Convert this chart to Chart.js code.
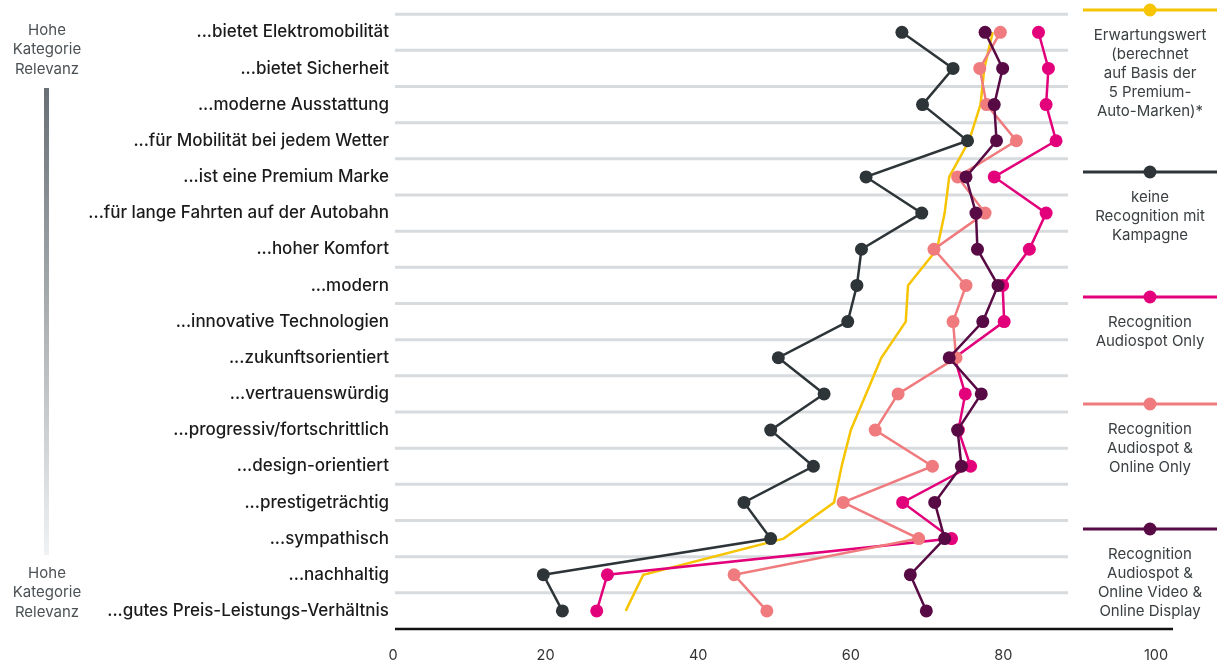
<!DOCTYPE html>
<html><head><meta charset="utf-8">
<script src="https://cdn.jsdelivr.net/npm/chart.js@4"></script>
<style>html,body{margin:0;padding:0;background:#fff;} canvas{display:block}</style>
</head><body>
<canvas id="c" width="1217" height="666"></canvas>
<script>
const categories = [
  '...bietet Elektromobilität',
  '...bietet Sicherheit',
  '...moderne Ausstattung',
  '...für Mobilität bei jedem Wetter',
  '...ist eine Premium Marke',
  '...für lange Fahrten auf der Autobahn',
  '...hoher Komfort',
  '...modern',
  '...innovative Technologien',
  '...zukunftsorientiert',
  '...vertrauenswürdig',
  '...progressiv/fortschrittlich',
  '...design-orientiert',
  '...prestigeträchtig',
  '...sympathisch',
  '...nachhaltig',
  '...gutes Preis-Leistungs-Verhältnis'
];
const erwartungswert        = [78.6, 77.5, 77.0, 75.5, 72.9, 72.3, 71.3, 67.5, 67.2, 64.0, 62.0, 60.0, 58.8, 57.8, 51.2, 32.8, 30.5];
const keineRecognition      = [66.7, 73.4, 69.4, 75.3, 62.0, 69.3, 61.4, 60.8, 59.6, 50.5, 56.5, 49.5, 55.1, 46.0, 49.5, 19.7, 22.2];
const audiospotOnly         = [84.6, 85.9, 85.6, 86.9, 78.8, 85.6, 83.4, 79.9, 80.1, 73.6, 75.0, 74.1, 75.7, 66.8, 73.2, 28.1, 26.7];
const audiospotOnline       = [79.6, 76.9, 77.8, 81.7, 74.0, 77.6, 70.9, 75.1, 73.4, 73.8, 66.2, 63.2, 70.7, 59.0, 68.9, 44.7, 49.0];
const audiospotVideoDisplay = [77.6, 79.9, 78.8, 79.1, 75.1, 76.4, 76.6, 79.3, 77.3, 72.9, 77.1, 74.0, 74.5, 71.0, 72.3, 67.8, 69.9];
const xTickValues = [0, 20, 40, 60, 80, 100];
const legendTexts = [
  ['Erwartungswert', '(berechnet', 'auf Basis der', '5 Premium-', 'Auto-Marken)*'],
  ['keine', 'Recognition mit', 'Kampagne'],
  ['Recognition', 'Audiospot Only'],
  ['Recognition', 'Audiospot &', 'Online Only'],
  ['Recognition', 'Audiospot &', 'Online Video &', 'Online Display']
];
const sideLabel = ['Hohe', 'Kategorie', 'Relevanz'];

const COLORS = ['#f6c400', '#2e3539', '#e3007b', '#f07b7e', '#580a44'];
const FONT = 'Inter';

const series = [erwartungswert, keineRecognition, audiospotOnly, audiospotOnline, audiospotVideoDisplay];
const datasets = series.map((d, i) => ({
  label: legendTexts[i].join(' '),
  data: d,
  borderColor: COLORS[i],
  backgroundColor: COLORS[i],
  pointBackgroundColor: COLORS[i],
  pointBorderWidth: 0,
  pointRadius: i === 0 ? 0 : 6.5,
  pointHoverRadius: i === 0 ? 0 : 6.5,
  borderWidth: 2.5,
  tension: 0,
  fill: false,
  order: 5 - i
}));

const decor = {
  id: 'decor',
  beforeDatasetsDraw(chart) {
    const ctx = chart.ctx;
    const y = chart.scales.y;
    const n = categories.length;
    const step = (y.getPixelForValue(n - 1) - y.getPixelForValue(0)) / (n - 1);
    ctx.save();
    ctx.strokeStyle = '#d7dbde';
    ctx.lineWidth = 3;
    for (let i = 0; i < n; i++) {
      const py = y.getPixelForValue(i) - step / 2;
      ctx.beginPath();
      ctx.moveTo(395, py);
      ctx.lineTo(1068, py);
      ctx.stroke();
    }
    ctx.restore();
  },
  afterDraw(chart) {
    const ctx = chart.ctx;
    const ca = chart.chartArea;
    ctx.save();
    ctx.strokeStyle = '#111';
    ctx.lineWidth = 2.5;
    ctx.beginPath();
    ctx.moveTo(395, ca.bottom);
    ctx.lineTo(1173, ca.bottom);
    ctx.stroke();
    const legendY = [10, 172, 297, 404, 529];
    legendTexts.forEach((lines, i) => {
      const ly = legendY[i];
      ctx.strokeStyle = COLORS[i];
      ctx.lineWidth = 3;
      ctx.beginPath();
      ctx.moveTo(1083, ly);
      ctx.lineTo(1217, ly);
      ctx.stroke();
      ctx.fillStyle = COLORS[i];
      ctx.beginPath();
      ctx.arc(1150, ly, 6.5, 0, Math.PI * 2);
      ctx.fill();
      ctx.fillStyle = '#3b4043';
      ctx.font = '15px ' + FONT;
      ctx.textAlign = 'center';
      ctx.textBaseline = 'middle';
      lines.forEach((t, k) => ctx.fillText(t, 1150, ly + 25 + k * 19));
    });
    ctx.fillStyle = '#4b5154';
    ctx.font = '15px ' + FONT;
    ctx.textAlign = 'center';
    ctx.textBaseline = 'middle';
    sideLabel.forEach((t, k) => ctx.fillText(t, 47, 30 + k * 19.5));
    sideLabel.forEach((t, k) => ctx.fillText(t, 47, 573 + k * 19.5));
    const g = ctx.createLinearGradient(0, 88, 0, 555);
    g.addColorStop(0, '#687075');
    g.addColorStop(1, '#f1f2f3');
    ctx.fillStyle = g;
    ctx.fillRect(44, 88, 5, 467);
    ctx.restore();
  }
};

new Chart(document.getElementById('c'), {
  type: 'line',
  data: { labels: categories, datasets },
  options: {
    indexAxis: 'y',
    responsive: false,
    animation: false,
    events: [],
    layout: { padding: { top: 11, right: 61, left: 0, bottom: 0 } },
    plugins: { legend: { display: false }, tooltip: { enabled: false } },
    scales: {
      x: {
        type: 'linear', min: 0, max: 100,
        afterBuildTicks(s) { s.ticks = xTickValues.map(v => ({ value: v })); },
        afterFit(s) { s.height = 37; },
        grid: { display: false, drawTicks: false }, border: { display: false },
        ticks: { padding: 18, color: '#333', font: { family: FONT, size: 14.5 } }
      },
      y: {
        type: 'category', offset: true,
        afterFit(s) { s.width = 393; },
        grid: { display: false, drawTicks: false }, border: { display: false },
        ticks: { padding: 4, color: '#1b1b1b', font: { family: FONT, size: 17, weight: 500 }, autoSkip: false }
      }
    }
  },
  plugins: [decor]
});
</script>
</body></html>
